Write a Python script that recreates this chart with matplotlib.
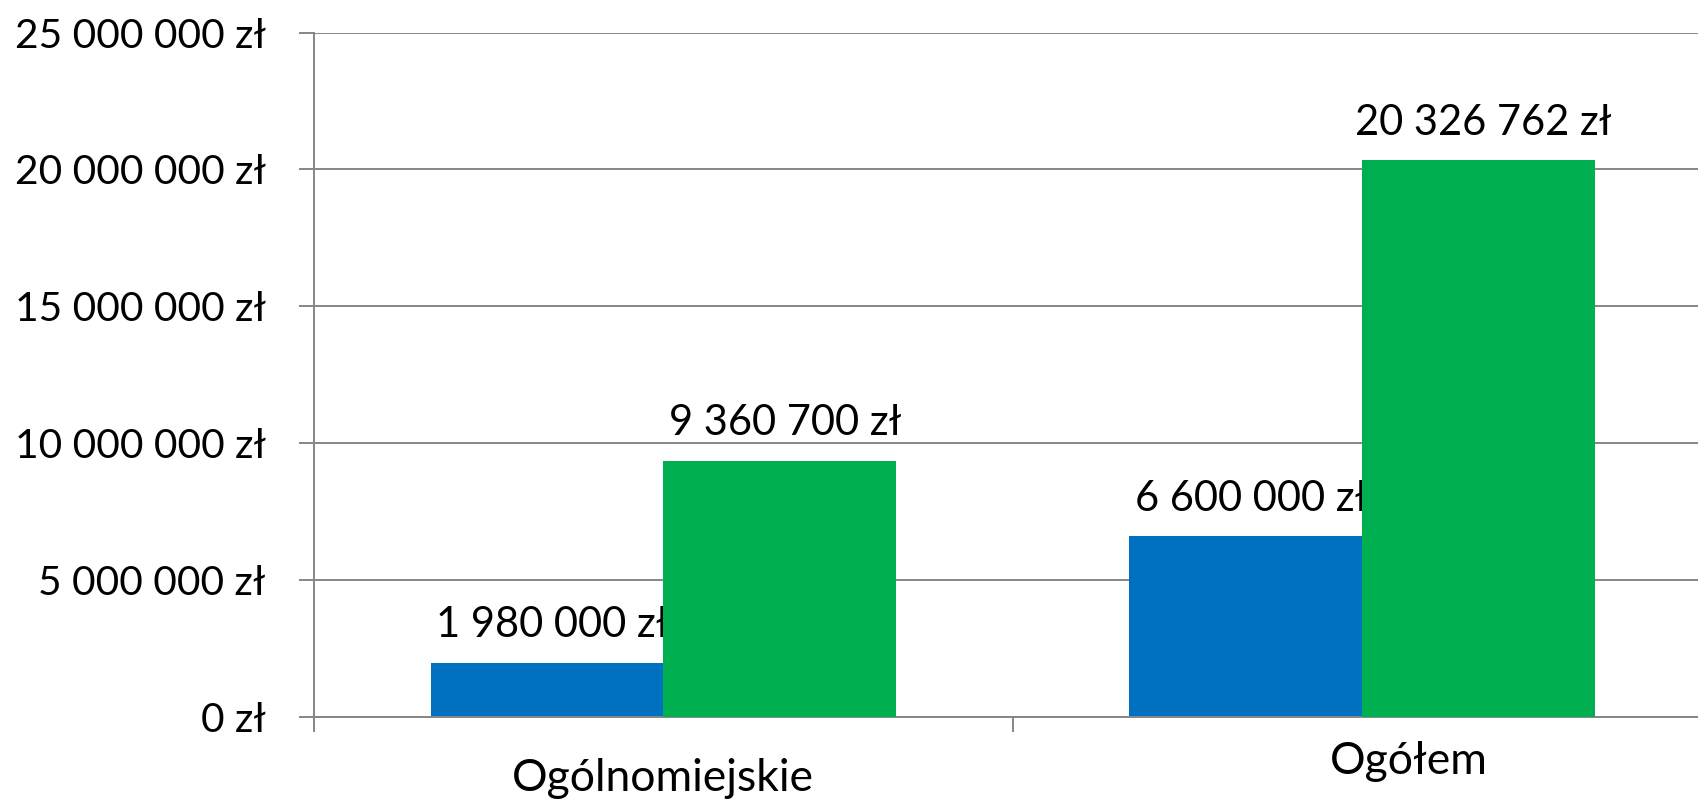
import matplotlib
matplotlib.use("Agg")
import matplotlib.pyplot as plt
from matplotlib.ticker import FuncFormatter, FixedLocator

categories = ["Ogólnomiejskie", "Ogółem"]
series_blue = [1980000, 6600000]
series_green = [9360700, 20326762]
y_ticks = [0, 5000000, 10000000, 15000000, 20000000, 25000000]

BLUE = "#0070C0"
GREEN = "#00B050"
GRID = "#868686"
FONT = ["Lato", "DejaVu Sans"]
FS_TICK = 29.3
FS_LABEL = 30
FS_CAT = 32

plt.rcParams['font.family'] = FONT


def zl(v):
    return f"{int(round(v)):,}".replace(",", " ") + " zł"


fig = plt.figure(figsize=(16.98, 8.01), dpi=100)
ax = fig.add_axes([0.185, 0.105, 1.0077 - 0.185, 0.9594 - 0.105])

bw = 1 / 3
xs = list(range(len(categories)))
ax.bar([x - bw / 2 for x in xs], series_blue, width=bw, color=BLUE, zorder=2)
ax.bar([x + bw / 2 for x in xs], series_green, width=bw, color=GREEN, zorder=4)

for x, v in zip(xs, series_blue):
    ax.annotate(zl(v), xy=(x - bw / 2, v), xytext=(4, 27), textcoords="offset points",
                ha="center", va="center", fontsize=FS_LABEL, color="black", zorder=3)
for x, v in zip(xs, series_green):
    ax.annotate(zl(v), xy=(x + bw / 2, v), xytext=(4, 27), textcoords="offset points",
                ha="center", va="center", fontsize=FS_LABEL, color="black", zorder=5)

ax.set_xlim(-0.5, 1.5)
ax.set_ylim(0, 25000000)
ax.yaxis.set_major_locator(FixedLocator(y_ticks))
ax.yaxis.set_major_formatter(FuncFormatter(lambda v, p: zl(v)))
ax.grid(axis="y", color=GRID, linewidth=1.4, zorder=0)
ax.set_axisbelow(True)

ax.set_xticks([-0.5, 0.5, 1.5])
ax.set_xticklabels([])
ax.tick_params(axis="x", length=11, width=1.4, color=GRID, direction="out")
ax.tick_params(axis="y", length=11, width=1.4, color=GRID, direction="out",
               pad=24, labelsize=FS_TICK)

for s in ["top", "right"]:
    ax.spines[s].set_visible(False)
for s in ["left", "bottom"]:
    ax.spines[s].set_color(GRID)
    ax.spines[s].set_linewidth(1.4)

# category labels
cat_offsets = [(0, -44), (34, -32)]
for x, name, off in zip(xs, categories, cat_offsets):
    ax.annotate(name, xy=(x, 0), xytext=off, textcoords="offset points",
                ha="center", va="center", fontsize=FS_CAT, color="black",
                annotation_clip=False)

fig.savefig("out.png", dpi=100)
